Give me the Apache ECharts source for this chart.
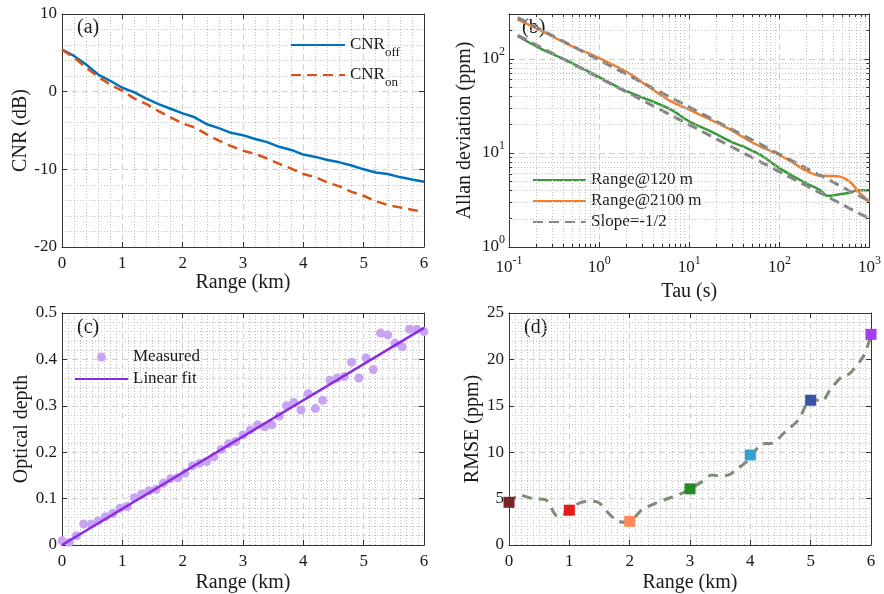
<!DOCTYPE html>
<html>
<head>
<meta charset="utf-8">
<script src="https://cdn.jsdelivr.net/npm/echarts@6/dist/echarts.min.js"></script>
<style>
html,body{margin:0;padding:0;background:#fff;}
#chart{width:884px;height:594px;}
</style>
</head>
<body>
<div id="chart"></div>
<script>
// ---------- Panel (a): CNR vs range ----------
const rangeA = [0,0.2,0.4,0.6,0.8,1.0,1.2,1.4,1.6,1.8,2.0,2.2,2.4,2.6,2.8,3.0,3.2,3.4,3.6,3.8,4.0,4.2,4.4,4.6,4.8,5.0,5.2,5.4,5.6,5.8,6.0];
const cnrOff = [5.4,4.6,3.5,2.2,1.4,0.5,-0.1,-0.9,-1.6,-2.2,-2.8,-3.3,-4.2,-4.7,-5.3,-5.6,-6.1,-6.5,-7.1,-7.5,-8.1,-8.4,-8.8,-9.1,-9.5,-10.0,-10.4,-10.6,-11.0,-11.3,-11.6];
const cnrOn  = [5.4,4.4,3.1,1.9,0.9,0.1,-0.9,-1.6,-2.5,-3.3,-4.1,-4.6,-5.5,-6.3,-7.0,-7.6,-8.0,-8.6,-9.3,-9.9,-10.6,-11.0,-11.7,-12.2,-12.9,-13.4,-14.1,-14.6,-14.9,-15.2,-15.5];

// ---------- Panel (b): Allan deviation ----------
const tau120  = [0.124,0.233,0.42,1,1.85,3.5,6.3,10,16,29,44,62,100,145,204,286,339,436,612,725,1000];
const adev120 = [175,126,98,64,47,36.8,28.8,21.6,17.6,13.2,11.2,9.5,6.9,5.6,4.7,4.0,3.5,3.6,3.8,4.0,4.0];
const tau2100  = [0.124,0.233,0.46,1,2.11,3.5,6.3,10,16,29,44,62,100,145,188,263,339,468,612,750,1000];
const adev2100 = [263,197,142,102,71,51,35.3,28.8,23.4,17.6,13.8,11.7,9.5,7.8,6.6,5.8,5.7,5.6,4.9,3.9,3.0];
const slopeTau = [0.125,1000];
const slopeHi  = [275,3.07];
const slopeLo  = [178,2.0];
const tauLimits  = [0.1,1000];
const adevLimits = [1,300];

// ---------- Panel (c): optical depth ----------
const rangeC = [0,0.12,0.24,0.36,0.48,0.6,0.72,0.84,0.96,1.08,1.2,1.32,1.44,1.56,1.68,1.8,1.92,2.04,2.16,2.28,2.4,2.52,2.64,2.76,2.88,3.0,3.12,3.24,3.36,3.48,3.6,3.72,3.84,3.96,4.08,4.2,4.32,4.44,4.56,4.68,4.8,4.92,5.04,5.16,5.28,5.4,5.52,5.64,5.76,5.88,6.0];
const odMeasured = [0.009,0.006,0.02,0.045,0.045,0.052,0.061,0.068,0.079,0.083,0.102,0.11,0.117,0.12,0.133,0.143,0.145,0.155,0.17,0.176,0.18,0.19,0.206,0.218,0.223,0.237,0.248,0.259,0.255,0.259,0.278,0.3,0.307,0.291,0.326,0.294,0.312,0.355,0.36,0.363,0.394,0.36,0.403,0.378,0.457,0.453,0.435,0.427,0.465,0.465,0.46];
const fitRange = [0,6];
const fitOD = [0.0,0.468];

// ---------- Panel (d): RMSE ----------
const rangeD = [0,1,2,3,4,5,6];
const rmse = [4.6,3.75,2.55,6.05,9.7,15.6,22.7];
const rmseColors = ['#7b2222','#e51b1b','#fb8a5a','#238b24','#33a2d0','#3653a8','#a63cf2'];
const curveRange = [0,0.17,0.39,0.6,0.77,0.85,0.99,1.1,1.27,1.43,1.54,1.65,1.77,1.9,2.04,2.2,2.43,2.65,2.87,3.0,3.2,3.36,3.47,3.64,3.8,4.0,4.19,4.36,4.58,4.8,4.91,5.0,5.18,5.32,5.52,5.65,5.87,5.96,6.0];
const curveRmse = [4.4,5.4,5.0,4.9,3.24,3.06,3.78,4.3,4.68,4.68,4.3,3.42,2.7,2.45,2.7,3.78,4.5,5.04,5.58,6.04,6.83,7.55,7.45,7.55,8.27,9.35,10.9,10.97,12.23,13.5,14.93,15.8,15.47,16.7,18.17,18.5,20.3,21.76,22.7];

// ---------- styling helpers ----------
const FONT = '"Liberation Serif", "Times New Roman", serif';
const TXT = '#1a1a1a';
const AXC = '#333333';
const MAJ = {show:true, lineStyle:{color:'#d0d0d0', type:[6,4], width:1}};
const MINL = {show:true, lineStyle:{color:'#c2c2c2', type:[1,2], width:1}};
const supRich = {
  b:{fontFamily:FONT, fontSize:17, color:TXT, lineHeight:30},
  s:{fontFamily:FONT, fontSize:12, color:TXT, lineHeight:12, padding:[0,0,14,0]}
};
const isInt = v => Math.abs(v - Math.round(v)) < 1e-6;
const powFmt = v => isInt(v) ? '{b|10}{s|' + Math.round(v) + '}' : '';

function mainX(g, o) {
  const lab = {fontFamily:FONT, fontSize:17, color:TXT, margin:o.margin ?? 8};
  if (o.fmt) { lab.formatter = o.fmt; lab.rich = supRich; }
  return {
    type:'value', gridIndex:g, min:o.min, max:o.max, interval:o.interval, position:'bottom',
    name:o.name, nameLocation:'middle', nameGap:o.nameGap,
    nameTextStyle:{fontFamily:FONT, fontSize:20, color:TXT},
    axisLine:{show:true, onZero:false, lineStyle:{color:AXC, width:1}},
    axisTick:{show:true, inside:true, length:5, lineStyle:{color:AXC}},
    axisLabel:lab,
    splitLine:MAJ,
    minorTick:{show:false, splitNumber:o.minor || 5},
    minorSplitLine: o.minor ? MINL : {show:false}
  };
}
function mainY(g, o) {
  const lab = {fontFamily:FONT, fontSize:17, color:TXT, margin:o.margin ?? 5};
  if (o.fmt) { lab.formatter = o.fmt; lab.rich = supRich; }
  return {
    type:'value', gridIndex:g, min:o.min, max:o.max, interval:o.interval, position:'left',
    name:o.name, nameLocation:'middle', nameGap:o.nameGap,
    nameTextStyle:{fontFamily:FONT, fontSize:20, color:TXT},
    axisLine:{show:true, onZero:false, lineStyle:{color:AXC, width:1}},
    axisTick:{show:true, inside:true, length:5, lineStyle:{color:AXC}},
    axisLabel:lab,
    splitLine:MAJ,
    minorTick:{show:false, splitNumber:o.minor || 5},
    minorSplitLine: o.minor ? MINL : {show:false}
  };
}
function mirror(g, o, pos) {
  return {
    type:'value', gridIndex:g, min:o.min, max:o.max, interval:o.interval, position:pos,
    axisLine:{show:true, onZero:false, lineStyle:{color:AXC, width:1}},
    axisTick:{show:true, inside:true, length:5, lineStyle:{color:AXC}},
    axisLabel:{show:false}, splitLine:{show:false}
  };
}

const axA_x = {min:0, max:6, interval:1, minor:5, name:'Range (km)', nameGap:22, margin:8};
const axA_y = {min:-20, max:10, interval:10, minor:5, name:'CNR (dB)', nameGap:30};
const bxMin = Math.log10(tauLimits[0]), bxMax = Math.log10(tauLimits[1]);
const byMin = Math.log10(adevLimits[0]), byMax = Math.log10(adevLimits[1]);
const axB_x = {min:bxMin, max:bxMax, interval:1, name:'Tau (s)', nameGap:33, margin:6, fmt:powFmt};
const axB_y = {min:byMin, max:byMax, interval:1, name:'Allan deviation (ppm)', nameGap:34, margin:4, fmt:powFmt};
const axC_x = {min:0, max:6, interval:1, minor:10, name:'Range (km)', nameGap:28, margin:8};
const axC_y = {min:0, max:0.5, interval:0.1, minor:5, name:'Optical depth', nameGap:30};
const axD_x = {min:0, max:6, interval:1, minor:10, name:'Range (km)', nameGap:28, margin:8};
const axD_y = {min:0, max:25, interval:5, minor:5, name:'RMSE (ppm)', nameGap:25};

// log-minor grid lines and minor ticks for panel (b)
const minorX = [], minorY = [];
for (let d = Math.round(bxMin); d < Math.round(bxMax); d++)
  for (let k = 2; k <= 9; k++) minorX.push(Math.log10(k * Math.pow(10, d)));
for (let d = 0; d <= 2; d++)
  for (let k = 2; k <= 9; k++) { const v = Math.log10(k * Math.pow(10, d)); if (v < byMax - 1e-6) minorY.push(v); }
const tkx = 3 / 90.5, tky = 3 / (233 / (byMax - byMin));
const minorGridData = minorX.map(v => ({xAxis:v})).concat(minorY.map(v => ({yAxis:v})));
const minorTickData = [];
minorX.forEach(v => {
  minorTickData.push([{coord:[v, byMin]}, {coord:[v, byMin + tky]}]);
  minorTickData.push([{coord:[v, byMax - tky]}, {coord:[v, byMax]}]);
});
minorY.forEach(v => {
  minorTickData.push([{coord:[bxMin, v]}, {coord:[bxMin + tkx, v]}]);
  minorTickData.push([{coord:[bxMax - tkx, v]}, {coord:[bxMax, v]}]);
});

const zip = (xs, ys) => xs.map((x, i) => [x, ys[i]]);
const zipLog = (xs, ys) => xs.map((x, i) => [Math.log10(x), Math.log10(ys[i])]);

const legendText = (extra) => Object.assign({fontFamily:FONT, fontSize:17, color:TXT, lineHeight:20}, extra || {});
const hideSym = {opacity:0};

const option = {
  animation:false,
  backgroundColor:'#ffffff',
  grid:[
    {left:62, top:14, width:362, height:233},
    {left:509, top:14, width:362, height:233},
    {left:62, top:313, width:362, height:232},
    {left:509, top:313, width:362, height:232}
  ],
  xAxis:[
    mainX(0, axA_x), mirror(0, axA_x, 'top'),
    mainX(1, axB_x), mirror(1, axB_x, 'top'),
    mainX(2, axC_x), mirror(2, axC_x, 'top'),
    mainX(3, axD_x), mirror(3, axD_x, 'top')
  ],
  yAxis:[
    mainY(0, axA_y), mirror(0, axA_y, 'right'),
    mainY(1, axB_y), mirror(1, axB_y, 'right'),
    mainY(2, axC_y), mirror(2, axC_y, 'right'),
    mainY(3, axD_y), mirror(3, axD_y, 'right')
  ],
  legend:[
    {
      left:290, top:30, orient:'vertical', padding:0, itemGap:0, itemWidth:54, itemHeight:14,
      selectedMode:false,
      data:[{name:'CNR_off', itemStyle:hideSym}, {name:'CNR_on', itemStyle:hideSym}],
      formatter: n => '{b|CNR}{s|' + n.split('_')[1] + '}',
      textStyle:{fontFamily:FONT, fontSize:17, color:TXT, lineHeight:30,
        rich:{
          b:{fontFamily:FONT, fontSize:17, color:TXT, lineHeight:30},
          s:{fontFamily:FONT, fontSize:13, color:TXT, lineHeight:13, padding:[16,0,0,0]}
        }}
    },
    {
      left:532, top:170, orient:'vertical', padding:0, itemGap:1, itemWidth:53, itemHeight:14,
      selectedMode:false,
      data:[{name:'Range@120 m', itemStyle:hideSym}, {name:'Range@2100 m', itemStyle:hideSym}, {name:'Slope=-1/2', itemStyle:hideSym}],
      textStyle:legendText()
    },
    {
      left:74, top:347, orient:'vertical', padding:0, itemGap:2, itemWidth:53, itemHeight:9,
      selectedMode:false,
      data:[{name:'Measured', icon:'circle'}, {name:'Linear fit', itemStyle:hideSym}],
      textStyle:legendText()
    }
  ],
  graphic:[
    {type:'text', left:77, top:18, style:{text:'(a)', font:'20px ' + FONT, fill:TXT}},
    {type:'text', left:522, top:18, style:{text:'(b)', font:'20px ' + FONT, fill:TXT}},
    {type:'text', left:77, top:318, style:{text:'(c)', font:'20px ' + FONT, fill:TXT}},
    {type:'text', left:524, top:318, style:{text:'(d)', font:'20px ' + FONT, fill:TXT}}
  ],
  series:[
    // (a)
    {name:'CNR_off', type:'line', xAxisIndex:0, yAxisIndex:0, data:zip(rangeA, cnrOff), symbol:'none',
     lineStyle:{color:'#0072BD', width:2.5}, itemStyle:{color:'#0072BD'}, z:3},
    {name:'CNR_on', type:'line', xAxisIndex:0, yAxisIndex:0, data:zip(rangeA, cnrOn), symbol:'none',
     lineStyle:{color:'#D95319', width:2.5, type:[10,6]}, itemStyle:{color:'#D95319'}, z:4},
    // (b) helpers: log minor grid & minor ticks
    {name:'_grid', type:'line', xAxisIndex:2, yAxisIndex:2, data:[[bxMin, byMin]], symbol:'none', silent:true, z:0,
     lineStyle:{width:0},
     markLine:{silent:true, symbol:'none', label:{show:false}, animation:false,
       lineStyle:{color:'#c2c2c2', type:[1,2], width:1}, emphasis:{disabled:true}, data:minorGridData}},
    {name:'_ticks', type:'line', xAxisIndex:2, yAxisIndex:2, data:[[bxMin, byMin]], symbol:'none', silent:true, z:5,
     lineStyle:{width:0},
     markLine:{silent:true, symbol:'none', label:{show:false}, animation:false,
       lineStyle:{color:AXC, type:'solid', width:1}, emphasis:{disabled:true}, data:minorTickData}},
    // (b)
    {name:'Range@120 m', type:'line', xAxisIndex:2, yAxisIndex:2, data:zipLog(tau120, adev120), symbol:'none', smooth:0.3,
     lineStyle:{color:'#3a9a3a', width:2.5}, itemStyle:{color:'#3a9a3a'}, z:2},
    {name:'Range@2100 m', type:'line', xAxisIndex:2, yAxisIndex:2, data:zipLog(tau2100, adev2100), symbol:'none', smooth:0.3,
     lineStyle:{color:'#f07f2e', width:2.5}, itemStyle:{color:'#f07f2e'}, z:2},
    {name:'Slope=-1/2', type:'line', xAxisIndex:2, yAxisIndex:2, data:zipLog(slopeTau, slopeHi), symbol:'none',
     lineStyle:{color:'#858585', width:3, type:[10,6]}, itemStyle:{color:'#858585'}, z:3},
    {name:'Slope=-1/2', type:'line', xAxisIndex:2, yAxisIndex:2, data:zipLog(slopeTau, slopeLo), symbol:'none',
     lineStyle:{color:'#858585', width:3, type:[10,6]}, itemStyle:{color:'#858585'}, z:3},
    // (c)
    {name:'Measured', type:'scatter', xAxisIndex:4, yAxisIndex:4, data:zip(rangeC, odMeasured), symbol:'circle', symbolSize:9,
     itemStyle:{color:'#c8a4f5', opacity:1}, z:2},
    {name:'Linear fit', type:'line', xAxisIndex:4, yAxisIndex:4, data:zip(fitRange, fitOD), symbol:'none',
     lineStyle:{color:'#8a2be2', width:2.5}, itemStyle:{color:'#8a2be2'}, z:3},
    // (d)
    {name:'RMSE curve', type:'line', xAxisIndex:6, yAxisIndex:6, data:zip(curveRange, curveRmse), symbol:'none', smooth:0.3,
     lineStyle:{color:'#7e8c77', width:3, type:[10,7]}, z:2},
    {name:'RMSE', type:'scatter', xAxisIndex:6, yAxisIndex:6, symbol:'rect', symbolSize:11, z:3,
     data:rangeD.map((x, i) => ({value:[x, rmse[i]], itemStyle:{color:rmseColors[i], opacity:1}}))}
  ]
};

const chart = echarts.init(document.getElementById('chart'), null, {renderer:'canvas'});
chart.setOption(option);
</script>
</body>
</html>
